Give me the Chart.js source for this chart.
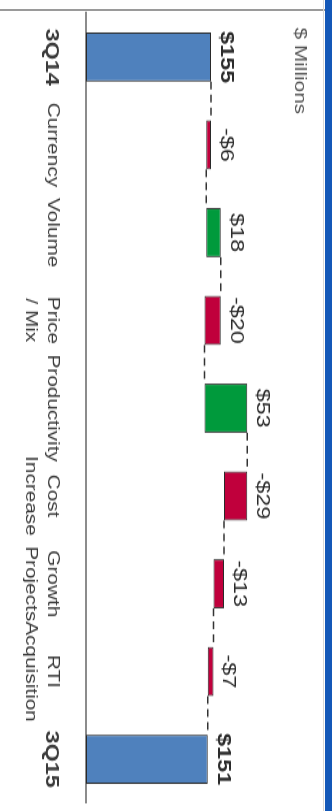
<!DOCTYPE html>
<html>
<head>
<meta charset="utf-8">
<script src="https://cdn.jsdelivr.net/npm/chart.js@4.4.1/dist/chart.umd.min.js"></script>
<style>
    html, body { margin: 0; padding: 0; background: #fff; width: 332px; height: 811px; overflow: hidden; }
    /* the chart is laid out landscape and turned a quarter clockwise, stretched along the category axis */
    #wrap {
        position: absolute; left: 0; top: 0;
        width: 628px; height: 332px;
        transform-origin: 0 0;
        transform: translate(332px, 0) rotate(90deg) scale(1.3, 1);
    }
    #frameLine { position: absolute; left: 0; top: 9px; width: 325px; height: 2px; background: #9a9a9a; }
    #edgeLine { position: absolute; left: 323px; top: 0; width: 1px; height: 811px; background: #d8d8d8; }
    #edgeBar { position: absolute; left: 325px; top: 0; width: 7px; height: 811px; background: #1458b8; }
</style>
</head>
<body>
<div id="frameLine"></div>
<div id="wrap"><canvas id="bridgeChart"></canvas></div>
<div id="edgeLine"></div>
<div id="edgeBar"></div>
<script>
    // Operating income bridge, $ millions
    const categories = [['3Q14'], ['Currency'], ['Volume'], ['Price', '/ Mix'], ['Productivity'],
        ['Cost', 'Increase'], ['Growth', 'Projects'], ['RTI', 'Acquisition'], ['3Q15']];
    const amounts = [155, -6, 18, -20, 53, -29, -13, -7, 151];
    const isTotal = [true, false, false, false, false, false, false, false, true];

    const totalColor = '#4f81bd';
    const upColor = '#009a3c';
    const downColor = '#c0003c';

    // floating bars: [start, end] for each step, totals sit on zero
    let running = 0;
    const floating = [];
    const levels = [];
    amounts.forEach((v, i) => {
        if (isTotal[i]) {
            floating.push([0, v]);
            running = v;
        } else {
            floating.push([running, running + v]);
            running += v;
        }
        levels.push(running);
    });

    const fillColors = amounts.map((v, i) => isTotal[i] ? totalColor : (v >= 0 ? upColor : downColor));
    const fmt = v => (v < 0 ? '-$' : '$') + Math.abs(v);

    const fontFamily = 'Arial, "Liberation Sans", sans-serif';

    // connectors, value labels and unit note
    const bridgeExtras = {
        id: 'bridgeExtras',
        afterDatasetsDraw(chart) {
            const { ctx, chartArea } = chart;
            const y = chart.scales.y;
            const bars = chart.getDatasetMeta(0).data;
            ctx.save();

            ctx.strokeStyle = '#333';
            ctx.lineWidth = 1.5;
            ctx.setLineDash([6, 4]);
            for (let i = 0; i < bars.length - 1; i++) {
                const a = bars[i], b = bars[i + 1];
                const py = y.getPixelForValue(levels[i]);
                ctx.beginPath();
                ctx.moveTo(a.x + a.width / 2, py);
                ctx.lineTo(b.x - b.width / 2, py);
                ctx.stroke();
            }
            ctx.setLineDash([]);

            ctx.textAlign = 'center';
            ctx.textBaseline = 'alphabetic';
            ctx.fillStyle = '#2b2b2b';
            bars.forEach((bar, i) => {
                const top = Math.min(bar.y, bar.base);
                ctx.font = (isTotal[i] ? 'bold ' : '') + '18px ' + fontFamily;
                ctx.fillText(fmt(amounts[i]), bar.x, top - 10);
            });

            ctx.textAlign = 'left';
            ctx.textBaseline = 'middle';
            ctx.fillStyle = '#555';
            ctx.font = '16px ' + fontFamily;
            ctx.fillText('$ Millions', chartArea.left + 11, chartArea.top + 25);
            ctx.restore();
        }
    };

    const ctx = document.getElementById('bridgeChart').getContext('2d');

    new Chart(ctx, {
        type: 'bar',
        data: {
            labels: categories,
            datasets: [{
                data: floating,
                backgroundColor: fillColors,
                borderColor: '#2a2a2a',
                borderWidth: 1,
                borderSkipped: false,
                categoryPercentage: 1,
                barPercentage: 0.56
            }]
        },
        options: {
            responsive: true,
            maintainAspectRatio: false,
            animation: false,
            layout: { padding: { top: 8, left: 8, right: 0, bottom: 0 } },
            plugins: {
                legend: { display: false },
                tooltip: { enabled: false }
            },
            scales: {
                x: {
                    grid: { display: false, drawTicks: false },
                    border: { display: true, color: '#8c8c8c', width: 2 },
                    ticks: {
                        autoSkip: false,
                        maxRotation: 0,
                        minRotation: 0,
                        padding: 22,
                        color: '#3a3a3a',
                        font: function (c) {
                            const bold = isTotal[c.index];
                            return { family: fontFamily, size: bold ? 18 : 16, weight: bold ? 'bold' : 'normal', lineHeight: 1.4 };
                        }
                    },
                    afterFit: function (scale) { scale.height = 86; }
                },
                y: { display: false, min: 0, max: 295 }
            }
        },
        plugins: [bridgeExtras]
    });
</script>
</body>
</html>
